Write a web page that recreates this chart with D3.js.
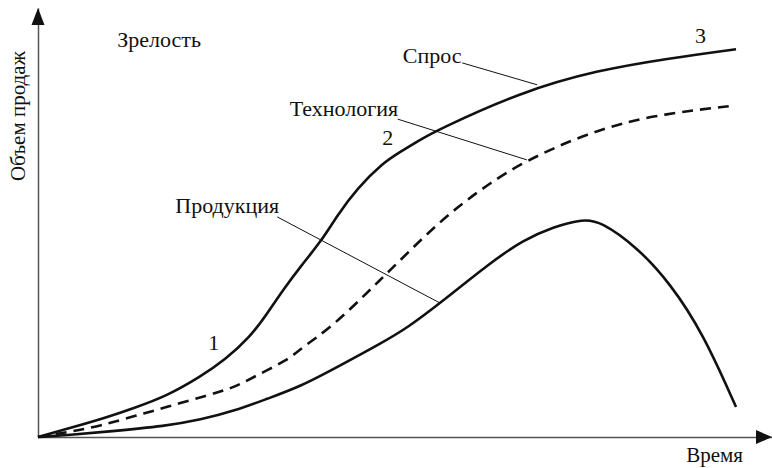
<!DOCTYPE html>
<html>
<head>
<meta charset="utf-8">
<title>Жизненный цикл</title>
<script src="https://cdn.jsdelivr.net/npm/d3@7"></script>
<style>
  body { margin: 0; background: #fff; }
  svg text { font-family: "Liberation Serif", "DejaVu Serif", serif; fill: #111; }
</style>
</head>
<body>
<div id="chart"></div>
<script>
// time (0..100) and sales volume (0..100)
var demandT  = [0, 4.4, 9.1, 13.2, 17.6, 22.1, 25.5, 28.9, 31.2, 33.4, 35.7, 38.7, 40.7, 43.5, 47, 49.3, 52, 54.1, 65.7, 76.2, 86.1, 95.1];
var demandV  = [0, 2.1, 4.4, 6.8, 9.6, 14, 18, 23.3, 28.7, 34.3, 39.6, 45.9, 51.5, 58, 63.9, 66.4, 69.2, 71.3, 80.4, 85.5, 88.3, 90.4];

var techT    = [0, 4.4, 8.5, 13.2, 17.6, 22.8, 26.6, 29.6, 34.1, 35.7, 40.2, 44.8, 48, 52.5, 57.1, 61.6, 66.1, 74.8, 83.8, 94.7];
var techV    = [0, 1.2, 2.6, 4.9, 7, 9.6, 11.4, 14.2, 18, 20.5, 25.9, 33.6, 38.9, 46.6, 53.6, 59.2, 64.1, 70.9, 75.1, 77.2];

var productT = [0, 4.4, 9.1, 17.6, 22.1, 26.8, 31.2, 35.7, 41.1, 46.6, 50.3, 54.8, 61.6, 66.1, 70.2, 74.3, 76.6, 81.6, 86.1, 90.6, 95.1];
var productV = [0, 0.5, 1.2, 2.6, 4, 6.1, 8.9, 11.7, 16.6, 21.7, 25.4, 31.2, 40.6, 45.9, 49, 50.8, 50.3, 44.3, 35.9, 24.2, 7];

// labels: text, position (time, volume)
var labelText = ["Зрелость", "Спрос", "Технология", "Продукция", "1", "2", "3"];
var labelT    = [10.8, 49.7, 34.3, 18.7, 23.2, 46.9, 89.5];
var labelV    = [90.9, 87.2, 74.8, 52.2, 20.3, 68.1, 91.8];

// leader lines from label to its curve
var leaderT1 = [57.8, 49.0, 32.6];
var leaderV1 = [87.2, 74.1, 51.3];
var leaderT2 = [68.0, 66.6, 54.8];
var leaderV2 = [82.1, 64.6, 31.2];

var width = 772,
    height = 468;

var svg = d3.select("#chart").append("svg")
    .attr("width", width)
    .attr("height", height);

var x = d3.scaleLinear().domain([0, 100]).range([38, 772]);
var y = d3.scaleLinear().domain([0, 100]).range([437, 8]);

// axes without ticks
svg.append("g")
    .attr("transform", "translate(0," + y(0) + ")")
    .call(d3.axisBottom(x).tickValues([]).tickSizeOuter(0));
svg.append("g")
    .attr("transform", "translate(" + x(0) + ",0)")
    .call(d3.axisLeft(y).tickValues([]).tickSizeOuter(0));
svg.selectAll(".domain").attr("stroke", "#555").attr("stroke-width", 1.5);

// arrow heads
svg.append("path")
    .attr("d", "M" + x(100) + "," + y(0) + "L" + (x(100) - 16) + "," + (y(0) - 7) + "L" + (x(100) - 16) + "," + (y(0) + 7) + "Z")
    .attr("fill", "#111");
svg.append("path")
    .attr("d", "M" + x(0) + "," + y(100) + "L" + (x(0) - 6.5) + "," + (y(100) + 17) + "L" + (x(0) + 6.5) + "," + (y(100) + 17) + "Z")
    .attr("fill", "#111");

var line = d3.line()
    .x(function(d) { return x(d[0]); })
    .y(function(d) { return y(d[1]); })
    .curve(d3.curveBasis);

var series = [
  { t: demandT, v: demandV, dash: null },
  { t: techT, v: techV, dash: "11,7" },
  { t: productT, v: productV, dash: null }
];

series.forEach(function(s) {
  svg.append("path")
    .datum(d3.zip(s.t, s.v))
    .attr("d", line)
    .attr("fill", "none")
    .attr("stroke", "#111")
    .attr("stroke-width", 2.6)
    .attr("stroke-dasharray", s.dash);
});

// leader lines
svg.selectAll(".leader")
  .data(d3.range(leaderT1.length))
  .enter().append("line")
    .attr("class", "leader")
    .attr("x1", function(i) { return x(leaderT1[i]); })
    .attr("y1", function(i) { return y(leaderV1[i]); })
    .attr("x2", function(i) { return x(leaderT2[i]); })
    .attr("y2", function(i) { return y(leaderV2[i]); })
    .attr("stroke", "#111")
    .attr("stroke-width", 1);

svg.selectAll(".lbl")
  .data(d3.range(labelText.length))
  .enter().append("text")
    .attr("class", "lbl")
    .attr("x", function(i) { return x(labelT[i]); })
    .attr("y", function(i) { return y(labelV[i]); })
    .attr("font-size", 22)
    .text(function(i) { return labelText[i]; });

// axis titles
svg.append("text")
    .attr("x", 743)
    .attr("y", 462)
    .attr("text-anchor", "end")
    .attr("font-size", 21)
    .text("Время");

svg.append("text")
    .attr("transform", "translate(25,116) rotate(-90)")
    .attr("text-anchor", "middle")
    .attr("font-size", 21)
    .text("Объем продаж");
</script>
</body>
</html>
